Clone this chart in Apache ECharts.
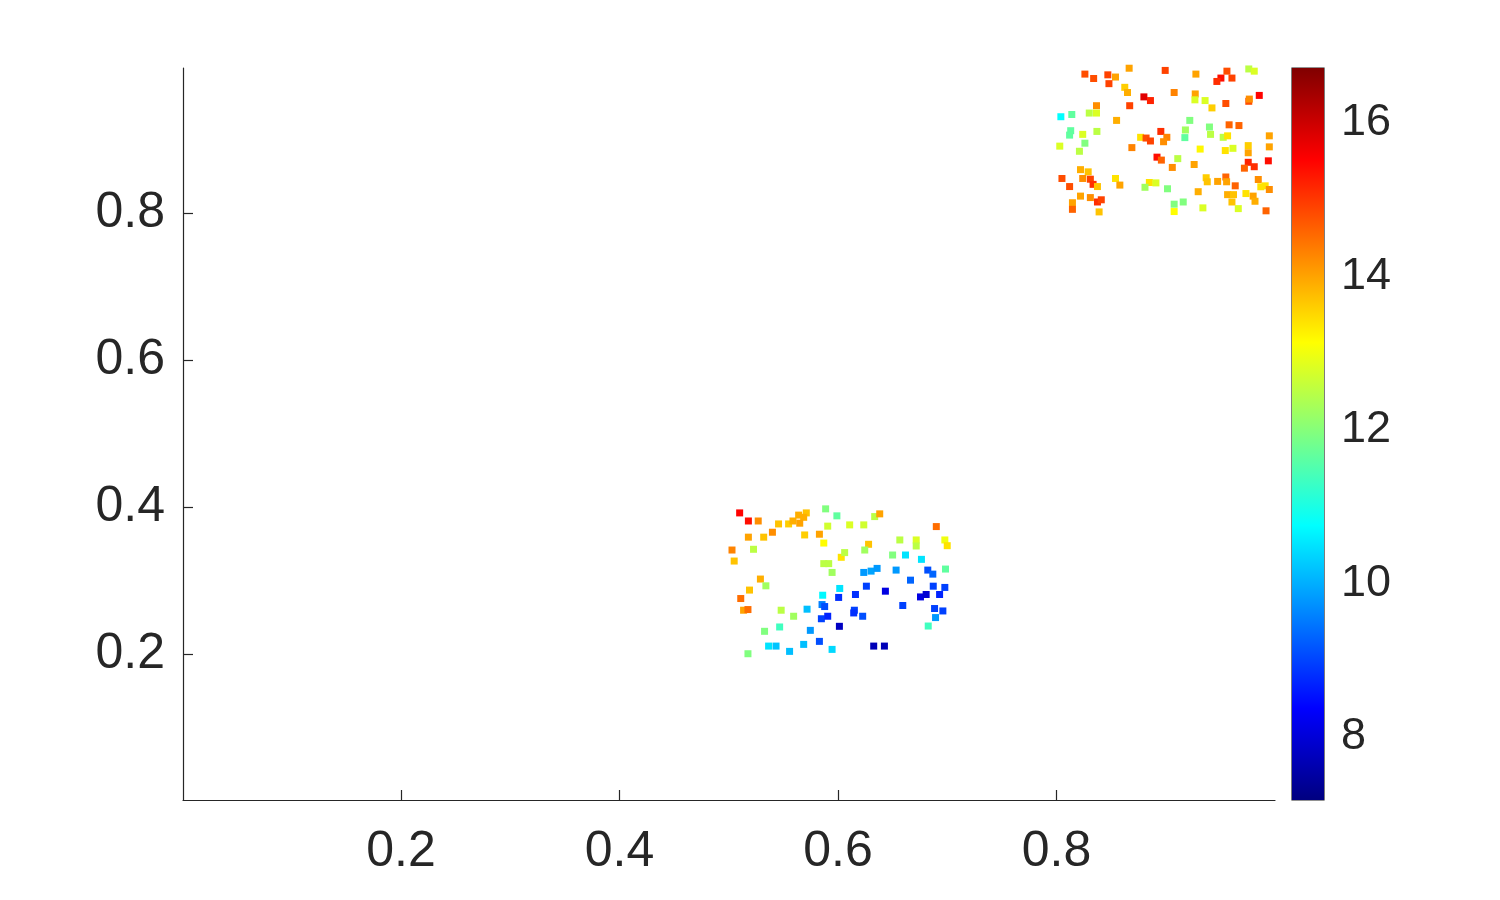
<!DOCTYPE html>
<html>
<head>
<meta charset="utf-8">
<script src="https://cdn.jsdelivr.net/npm/echarts@6/dist/echarts.min.js"></script>
<style>html,body{margin:0;padding:0;background:#fff}#c{width:1500px;height:900px}</style>
</head>
<body>
<div id="c"></div>
<script>
// ---- data ----
const xValues = [
  // upper-right cluster
  0.848,0.8665,0.826,0.834,0.847,0.854,0.848,0.8625,0.865,0.880,0.886,0.895,0.8366,0.867,0.804,0.814,0.830,0.8366,0.855,0.813,
  0.812,0.824,0.837,0.803,0.826,0.821,0.877,0.882,0.886,0.8955,0.901,0.898,0.869,0.892,0.896,0.822,0.829,0.805,0.824,0.831,
  0.8335,0.8375,0.812,0.854,0.858,0.822,0.831,0.8375,0.841,0.8146,0.8146,0.839,0.885,0.891,0.881,0.9016,
  0.8995,0.9276,0.9505,0.9468,0.956,0.9606,0.976,0.981,0.9077,0.927,0.9267,0.936,0.9423,0.955,0.976,0.9765,0.9856,0.922,0.958,0.967,
  0.940,0.918,0.9175,0.941,0.9526,0.9566,0.9948,0.9755,0.9755,0.9948,0.9315,0.9545,0.9615,0.911,0.906,0.926,0.9755,0.981,0.972,0.9939,
  0.937,0.938,0.9475,0.955,0.9557,0.9636,0.9847,0.987,0.991,0.9948,0.9297,0.9566,0.962,0.9606,0.9734,0.980,0.9817,0.9664,0.934,0.916,
  0.9077,0.9077,0.9918,
  // lower cluster
  0.510,0.518,0.527,0.5456,0.5548,0.5588,0.564,0.571,0.5686,0.565,0.5887,0.599,0.540,0.532,0.518,0.5695,0.583,0.5906,0.587,0.503,
  0.5227,0.505,0.587,0.5915,0.5946,0.603,0.529,0.534,0.519,0.511,0.5136,0.5176,0.548,0.5594,0.5717,0.586,0.5854,0.5878,0.5848,0.5906,
  0.6016,0.6006,0.6013,0.5328,0.5466,0.5747,0.5365,0.5433,0.5686,0.583,0.5557,0.5946,0.5176,
  0.6336,0.6382,0.6107,0.6236,0.690,0.628,0.6245,0.6061,0.6566,0.6716,0.6716,0.6978,0.700,0.650,0.6618,0.6764,0.6984,0.6236,0.6303,0.6358,
  0.6532,0.6822,0.6868,0.6664,0.6872,0.6978,0.626,0.6434,0.616,0.6755,0.6807,0.693,0.6593,0.6884,0.696,0.615,0.6144,0.6226,0.6893,0.6826,
  0.6327,0.6425
];
const yValues = [
  0.999,0.997,0.989,0.983,0.988,0.985,0.976,0.971,0.964,0.958,0.953,0.999,0.946,0.946,0.931,0.934,0.936,0.936,0.926,0.912,
  0.906,0.907,0.911,0.891,0.895,0.884,0.903,0.902,0.898,0.911,0.903,0.897,0.889,0.876,0.872,0.859,0.856,0.847,0.847,0.846,
  0.839,0.836,0.836,0.847,0.838,0.823,0.821,0.815,0.818,0.814,0.805,0.8015,0.8415,0.841,0.835,0.833,
  0.994,0.989,0.9836,0.979,0.993,0.9836,0.996,0.993,0.964,0.962,0.954,0.953,0.943,0.949,0.952,0.955,0.960,0.926,0.920,0.919,
  0.917,0.913,0.9026,0.907,0.903,0.905,0.905,0.8917,0.882,0.890,0.887,0.885,0.888,0.874,0.862,0.866,0.869,0.863,0.861,0.871,
  0.848,0.8425,0.843,0.849,0.8425,0.837,0.8456,0.8357,0.837,0.832,0.829,0.825,0.825,0.815,0.8265,0.823,0.816,0.806,0.807,0.815,
  0.812,0.802,0.803,
  0.392,0.381,0.381,0.377,0.377,0.381,0.389,0.392,0.386,0.378,0.3975,0.388,0.3657,0.359,0.359,0.362,0.363,0.374,0.351,0.3415,
  0.3425,0.3265,0.323,0.323,0.311,0.3316,0.302,0.2928,0.287,0.2755,0.2596,0.2605,0.2596,0.2514,0.261,0.280,0.2673,0.2646,0.248,0.2514,
  0.2892,0.277,0.2377,0.2309,0.2368,0.2322,0.2108,0.2108,0.2131,0.2172,0.2036,0.2063,0.2004,
  0.387,0.3907,0.3757,0.3757,0.3734,0.3493,0.3415,0.338,0.3552,0.3552,0.347,0.3552,0.3474,0.3347,0.3347,0.3288,0.3156,0.311,0.3128,0.3165,
  0.3142,0.3142,0.3087,0.3005,0.2923,0.2906,0.2923,0.2855,0.281,0.2777,0.281,0.281,0.266,0.2619,0.2586,0.2596,0.2559,0.2514,0.2496,0.2381,
  0.2108,0.2108
];
const cValues = [
  15.5,14.0,14.8,14.8,14.9,14.0,14.9,13.6,13.9,15.8,15.2,14.0,14.2,14.9,10.75,11.65,12.5,12.8,13.9,11.65,
  11.65,12.8,12.5,12.8,11.95,12.5,13.4,14.8,14.9,15.1,14.3,14.2,14.3,15.4,14.6,13.9,13.7,14.8,14.2,14.9,
  15.1,13.7,14.8,13.4,14.0,14.0,14.2,15.1,14.9,14.0,14.6,13.7,13.4,12.8,12.25,11.95,
  14.9,14.0,15.4,15.1,14.8,14.9,12.5,12.8,14.3,14.0,12.8,12.8,13.6,14.8,14.8,14.2,15.5,11.95,14.6,14.6,
  11.95,12.25,11.65,12.5,12.5,13.4,14.0,13.6,14.0,14.0,13.2,13.4,12.8,12.5,14.2,14.0,15.2,15.1,14.6,15.4,
  13.6,13.7,14.0,14.6,14.0,14.6,14.2,13.4,13.4,14.2,13.9,13.9,13.7,13.7,13.4,14.0,13.9,12.8,12.8,11.95,
  11.95,13.15,14.6,
  15.5,15.4,14.2,13.7,13.6,13.9,13.9,13.7,13.9,14.0,11.95,11.65,14.2,13.7,14.0,13.6,14.0,12.7,13.15,14.3,
  12.5,13.7,12.5,12.5,12.25,13.4,13.9,12.25,13.7,14.5,14.0,14.5,12.5,12.25,10.15,10.7,9.56,9.1,8.97,8.7,
  10.5,8.8,7.8,11.95,11.35,9.8,10.5,10.2,10.15,9.1,10.15,10.4,11.95,
  12.5,14.0,12.8,12.7,14.5,13.7,12.25,12.5,12.5,12.8,12.5,13.0,13.4,11.95,10.5,10.5,11.65,9.8,9.9,9.8,
  9.8,9.1,9.3,9.3,8.97,8.97,8.97,8.1,8.8,8.1,7.95,8.7,8.97,8.97,8.97,8.97,8.8,9.1,9.8,11.35,
  7.7,7.7
];
const xTicks = [0.2, 0.4, 0.6, 0.8];
const yTicks = [0.2, 0.4, 0.6, 0.8];
const cTicks = [8, 10, 12, 14, 16];
const xLimits = [0.0005, 1.0];
const yLimits = [0.0014, 0.9973];
const cLimits = [7.18, 16.71];

// ---- styling ----
const jet = ['#000080','#0000ff','#0080ff','#00ffff','#80ff80','#ffff00','#ff8000','#ff0000','#800000'];
const ink = '#262626';
const font = 'Liberation Sans, Arial, Helvetica, sans-serif';

const points = xValues.map((x, i) => [x, yValues[i], cValues[i]]);

const chart = echarts.init(document.getElementById('c'), null, {renderer: 'canvas'});
chart.setOption({
  animation: false,
  backgroundColor: '#ffffff',
  grid: [
    {left: 183, top: 68, width: 1092, height: 732, containLabel: false},
    {left: 1292, top: 68, width: 32, height: 732, containLabel: false,
     show: true, borderColor: ink, borderWidth: 1.2, backgroundColor: 'transparent'}
  ],
  xAxis: [
    {type: 'value', gridIndex: 0, min: xLimits[0], max: xLimits[1],
     axisLine: {show: true, onZero: false, lineStyle: {color: ink, width: 1.2}},
     axisTick: {show: true, inside: true, length: 10, customValues: xTicks, lineStyle: {color: ink, width: 1.2}},
     axisLabel: {show: true, customValues: xTicks, margin: 27, color: ink, fontSize: 50, fontFamily: font,
                 formatter: v => v.toFixed(1)},
     splitLine: {show: false}},
    {type: 'category', gridIndex: 1, data: ['c'], show: false}
  ],
  yAxis: [
    {type: 'value', gridIndex: 0, min: yLimits[0], max: yLimits[1],
     axisLine: {show: true, onZero: false, lineStyle: {color: ink, width: 1.2}},
     axisTick: {show: true, inside: true, length: 10, customValues: yTicks, lineStyle: {color: ink, width: 1.2}},
     axisLabel: {show: true, customValues: yTicks, margin: 18, color: ink, fontSize: 50, fontFamily: font,
                 padding: [7, 0, 0, 0], formatter: v => v.toFixed(1)},
     splitLine: {show: false}},
    {type: 'value', gridIndex: 1, position: 'right', min: cLimits[0], max: cLimits[1],
     axisLine: {show: false},
     axisTick: {show: true, inside: true, length: 7, customValues: cTicks, lineStyle: {color: ink, width: 1.2}},
     axisLabel: {show: true, customValues: cTicks, margin: 17, color: ink, fontSize: 45, fontFamily: font,
                 padding: [6, 0, 0, 0]},
     splitLine: {show: false}}
  ],
  visualMap: {
    show: false, type: 'continuous', seriesIndex: 0, dimension: 2,
    min: cLimits[0], max: cLimits[1], inRange: {color: jet}
  },
  series: [
    {type: 'scatter', xAxisIndex: 0, yAxisIndex: 0, symbol: 'rect', symbolSize: 7,
     data: points, itemStyle: {opacity: 1}},
    {type: 'bar', xAxisIndex: 1, yAxisIndex: 1, barWidth: '100%', silent: true,
     data: [cLimits[1]],
     itemStyle: {color: new echarts.graphic.LinearGradient(0, 1, 0, 0,
       jet.map((c, i) => ({offset: i / (jet.length - 1), color: c})))},
     z: 1}
  ]
});
</script>
</body>
</html>
